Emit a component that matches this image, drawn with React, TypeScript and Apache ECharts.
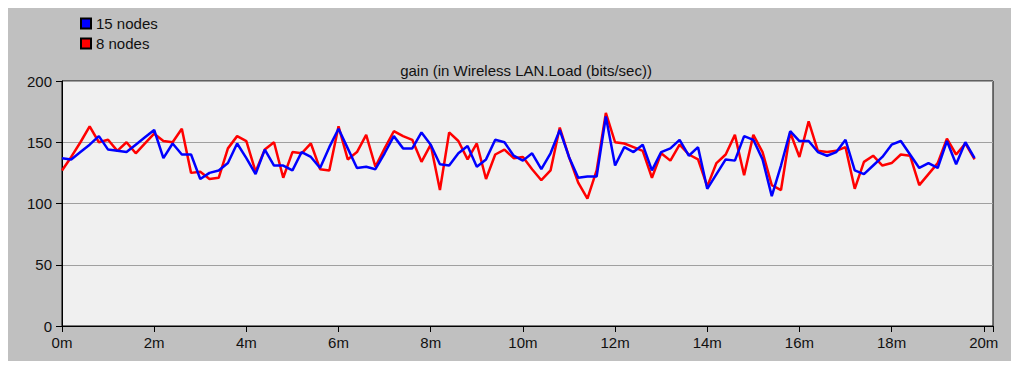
import React, { useEffect, useRef } from "react";
import * as echarts from "echarts";

const stepMinutes = 0.2;
const xTicks = [0, 2, 4, 6, 8, 10, 12, 14, 16, 18, 20];
const yTicks = [0, 50, 100, 150, 200];
const seriesNames = ["15 nodes", "8 nodes"];
const chartTitle = "gain (in Wireless LAN.Load (bits/sec))";

const nodes15 = [
  137, 136, 142, 148, 155, 144, 143, 142, 148, 154,
  160, 137, 149, 140, 140, 120, 125, 127, 133, 149,
  137, 124, 144, 131, 131, 127, 142, 138, 129, 146,
  161, 145, 129, 130, 128, 141, 155, 145, 145, 158,
  148, 132, 131, 141, 147, 130, 136, 152, 150, 139,
  135, 141, 128, 141, 160, 138, 121, 122, 122, 171,
  131, 146, 142, 148, 127, 142, 145, 152, 139, 146,
  112, 124, 136, 135, 155, 152, 136, 106, 131, 159,
  151, 151, 142, 139, 142, 152, 127, 124, 131, 138,
  148, 151, 140, 129, 133, 129, 151, 132, 150, 137,
];

const nodes8 = [
  127, 138, 150, 163, 150, 152, 143, 150, 141, 149,
  157, 151, 150, 161, 125, 126, 120, 121, 145, 155,
  151, 126, 144, 150, 121, 142, 141, 149, 128, 127,
  163, 136, 142, 156, 130, 145, 159, 155, 152, 134,
  148, 111, 158, 151, 136, 149, 120, 140, 144, 137,
  138, 128, 119, 127, 162, 138, 117, 104, 127, 174,
  150, 149, 146, 143, 121, 141, 135, 148, 140, 136,
  114, 133, 140, 156, 123, 156, 142, 115, 111, 158,
  138, 167, 143, 142, 143, 146, 112, 134, 139, 131,
  133, 140, 139, 115, 124, 133, 153, 140, 149, 136,
];

const toPairs = (vals: number[]) =>
  vals.map((v, i) => [+(i * stepMinutes).toFixed(2), v]);

export default function App() {
  const ref = useRef<HTMLDivElement>(null);

  useEffect(() => {
    if (!ref.current) return;
    const chart = echarts.init(ref.current, undefined, { renderer: "svg" });
    const font = "'Liberation Sans', Arial, sans-serif";
    const fs = 15;
    chart.setOption({
      animation: false,
      backgroundColor: "#c0c0c0",
      textStyle: { fontFamily: font },
      title: {
        text: chartTitle,
        left: 518,
        top: 54,
        padding: 0,
        textAlign: "center",
        textStyle: { fontSize: fs, lineHeight: 16, fontWeight: "normal", color: "#111", fontFamily: font },
      },
      legend: {
        data: seriesNames,
        orient: "vertical",
        left: 72,
        top: 8,
        padding: 0,
        itemWidth: 10,
        itemHeight: 10,
        itemGap: 5,
        icon: "rect",
        textStyle: { fontSize: fs, lineHeight: 15, color: "#111", fontFamily: font },
      },
      grid: {
        left: 54,
        top: 73,
        right: 18,
        bottom: 35,
        show: true,
        backgroundColor: "#f0f0f0",
        borderColor: "#000",
        borderWidth: 1,
      },
      xAxis: {
        type: "value",
        min: 0,
        max: 20.2,
        interval: 2,
        axisLine: { show: true, lineStyle: { color: "#000", width: 1 } },
        axisTick: { show: true, length: 6, lineStyle: { color: "#000" } },
        axisLabel: {
          color: "#111",
          fontSize: fs,
          margin: 9,
          fontFamily: font,
          formatter: (v: number) => (xTicks.includes(v) ? `${v}m` : ""),
        },
        splitLine: { show: false },
      },
      yAxis: {
        type: "value",
        min: yTicks[0],
        max: yTicks[yTicks.length - 1],
        interval: 50,
        axisLine: { show: true, lineStyle: { color: "#000", width: 1 } },
        axisTick: { show: true, length: 6, lineStyle: { color: "#000" } },
        axisLabel: { color: "#111", fontSize: fs, margin: 10, fontFamily: font },
        splitLine: { show: true, lineStyle: { color: "#a0a0a0", width: 1 } },
      },
      series: [
        {
          name: seriesNames[1],
          type: "line",
          data: toPairs(nodes8),
          showSymbol: false,
          symbol: "none",
          lineStyle: { color: "#ff0000", width: 2.5 },
          itemStyle: { color: "#ff0000", borderColor: "#000", borderWidth: 1 },
        },
        {
          name: seriesNames[0],
          type: "line",
          data: toPairs(nodes15),
          showSymbol: false,
          symbol: "none",
          lineStyle: { color: "#0000ff", width: 2.5 },
          itemStyle: { color: "#0000ff", borderColor: "#000", borderWidth: 1 },
        },
      ],
    });
    return () => chart.dispose();
  }, []);

  return <div ref={ref} style={{ width: 1003, height: 353 }} />;
}
